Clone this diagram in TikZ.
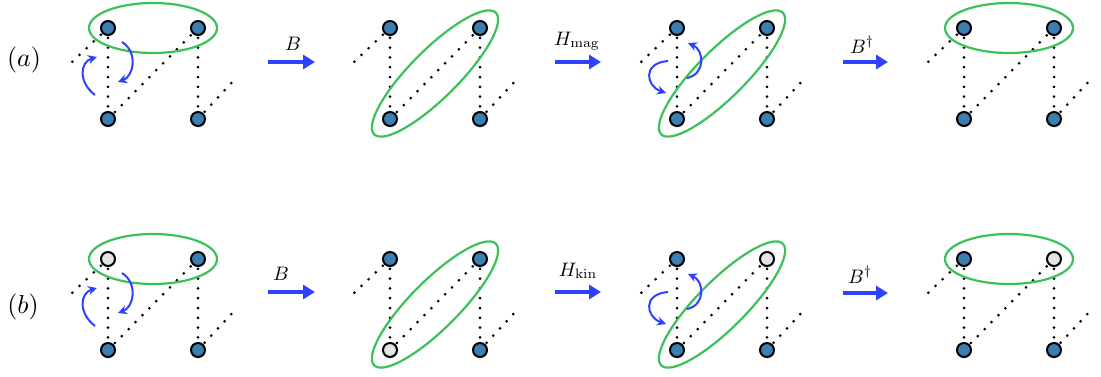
\documentclass[tikz,border=0pt]{standalone}
\usetikzlibrary{arrows.meta,calc,shadows,backgrounds}

\definecolor{sitefill}{RGB}{58,126,178}
\definecolor{holefill}{RGB}{228,228,228}
\definecolor{pairgreen}{RGB}{60,192,90}
\definecolor{hopblue}{RGB}{45,65,255}

\newcommand\oplab[1]{\scalebox{1.95}{$#1$}}
\newcommand\rowlab[1]{\scalebox{2.6}{$#1$}}

\tikzset{
  x=1pt, y=-1pt,
  site/.style={circle, draw=black, line width=2pt, minimum size=14pt,
    inner sep=0pt, fill=sitefill,
    drop shadow={shadow xshift=0.3pt, shadow yshift=-1.6pt, opacity=0.25}},
  hole/.style={site, fill=holefill},
  bond/.style={black, line width=3pt, line cap=round,
    dash pattern=on 0pt off 9.8pt},
  pair/.style={draw=pairgreen, line width=2.2pt},
  hop/.style={draw=hopblue, line width=2pt, -{Stealth[length=9pt,width=9pt]}},
  stage/.style={draw=hopblue, line width=3.6pt, -{Triangle[length=12pt,width=14pt]}},
  oplabel/.style={anchor=base, inner sep=0pt},
  rowlabel/.style={inner sep=0pt},
}

% one plaquette of four sites with its dotted bonds
% #1 prefix, #2 #3 position of the top-left site, #4..#7 styles of tl, tr, bl, br
\newcommand\plaquette[7]{%
  \begin{scope}[shift={(#2,#3)}, name prefix=#1-]
    \node[#4] (tl) at (0,0) {};
    \node[#5] (tr) at (90,0) {};
    \node[#6] (bl) at (0,91) {};
    \node[#7] (br) at (90,91) {};
    \coordinate (west) at (-36,34);
    \coordinate (east) at (128,50);
    \begin{pgfonlayer}{background}
      \draw[bond] (tl.center) -- (west);
      \draw[bond] (tl.center) -- (bl.center);
      \draw[bond] (tr.center) -- (br.center);
      \draw[bond] (bl.center) -- (tr.center);
      \draw[bond] (br.center) -- (east);
    \end{pgfonlayer}
  \end{scope}}

% horizontal pair ring around the two upper sites
\newcommand\toppair[1]{%
  \draw[pair] ($(#1-tl)!0.5!(#1-tr)$) ellipse [x radius=64pt, y radius=25pt];}
% diagonal pair ring around the lower-left and upper-right sites
\newcommand\diagpair[1]{%
  \draw[pair, rotate around={45:($(#1-bl)!0.5!(#1-tr)$)}]
    ($(#1-bl)!0.5!(#1-tr)$) ellipse [x radius=86pt, y radius=24pt];}

% exchange arrows beside the left bond, first stage
\newcommand\hopsfirst[1]{%
  \begin{scope}[shift={(#1-tl.center)}, name prefix=#1-]
    \coordinate (ha) at (-13,67); \coordinate (hb) at (-11,29);
    \coordinate (hc) at (14,14);  \coordinate (hd) at (10,54);
    \draw[hop] (ha) .. controls (-30,54) and (-28,34) .. (hb);
    \draw[hop] (hc) .. controls (30,24) and (26,48) .. (hd);
  \end{scope}}
% exchange arrows around the rotated pair, third stage
\newcommand\hopsthird[1]{%
  \begin{scope}[shift={(#1-tl.center)}, name prefix=#1-]
    \coordinate (ha) at (-9,33);  \coordinate (hb) at (-11,65);
    \coordinate (hc) at (10,50);  \coordinate (hd) at (11,15);
    \draw[hop] (ha) .. controls (-35,35) and (-31,58) .. (hb);
    \draw[hop] (hc) .. controls (29,46) and (27,22) .. (hd);
  \end{scope}}

\begin{document}
\begin{tikzpicture}
  \useasboundingbox (0,0) rectangle (1101,376);

  % ---- row (a)
  \node[rowlabel] (la) at (24,60) {\rowlab{(a)}};
  \plaquette{a1}{108}{28}{site}{site}{site}{site}
  \plaquette{a2}{390}{28}{site}{site}{site}{site}
  \plaquette{a3}{677}{28}{site}{site}{site}{site}
  \plaquette{a4}{964}{28}{site}{site}{site}{site}
  \toppair{a1} \diagpair{a2} \diagpair{a3} \toppair{a4}
  \hopsfirst{a1} \hopsthird{a3}

  \coordinate (sa1) at (268,62); \coordinate (ea1) at (315,62);
  \coordinate (sa2) at (555,62); \coordinate (ea2) at (601,62);
  \coordinate (sa3) at (843,62); \coordinate (ea3) at (888,62);
  \draw[stage] (sa1) -- (ea1);
  \draw[stage] (sa2) -- (ea2);
  \draw[stage] (sa3) -- (ea3);
  \node[oplabel] (ta1) at (293,50) {\oplab{B}};
  \node[oplabel] (ta2) at (577,45) {\oplab{H_{\mathrm{mag}}}};
  \node[oplabel] (ta3) at (862,53) {\oplab{B^{\dagger}}};

  % ---- row (b)
  \node[rowlabel] (lb) at (23,307) {\rowlab{(b)}};
  \plaquette{b1}{108}{259}{hole}{site}{site}{site}
  \plaquette{b2}{390}{259}{site}{site}{hole}{site}
  \plaquette{b3}{677}{259}{site}{hole}{site}{site}
  \plaquette{b4}{964}{259}{site}{hole}{site}{site}
  \toppair{b1} \diagpair{b2} \diagpair{b3} \toppair{b4}
  \hopsfirst{b1} \hopsthird{b3}

  \coordinate (sb1) at (268,292); \coordinate (eb1) at (315,292);
  \coordinate (sb2) at (555,292); \coordinate (eb2) at (601,292);
  \coordinate (sb3) at (843,293); \coordinate (eb3) at (888,293);
  \draw[stage] (sb1) -- (eb1);
  \draw[stage] (sb2) -- (eb2);
  \draw[stage] (sb3) -- (eb3);
  \node[oplabel] (tb1) at (281,280) {\oplab{B}};
  \node[oplabel] (tb2) at (578,276) {\oplab{H_{\mathrm{kin}}}};
  \node[oplabel] (tb3) at (860,283) {\oplab{B^{\dagger}}};
\end{tikzpicture}
\end{document}
